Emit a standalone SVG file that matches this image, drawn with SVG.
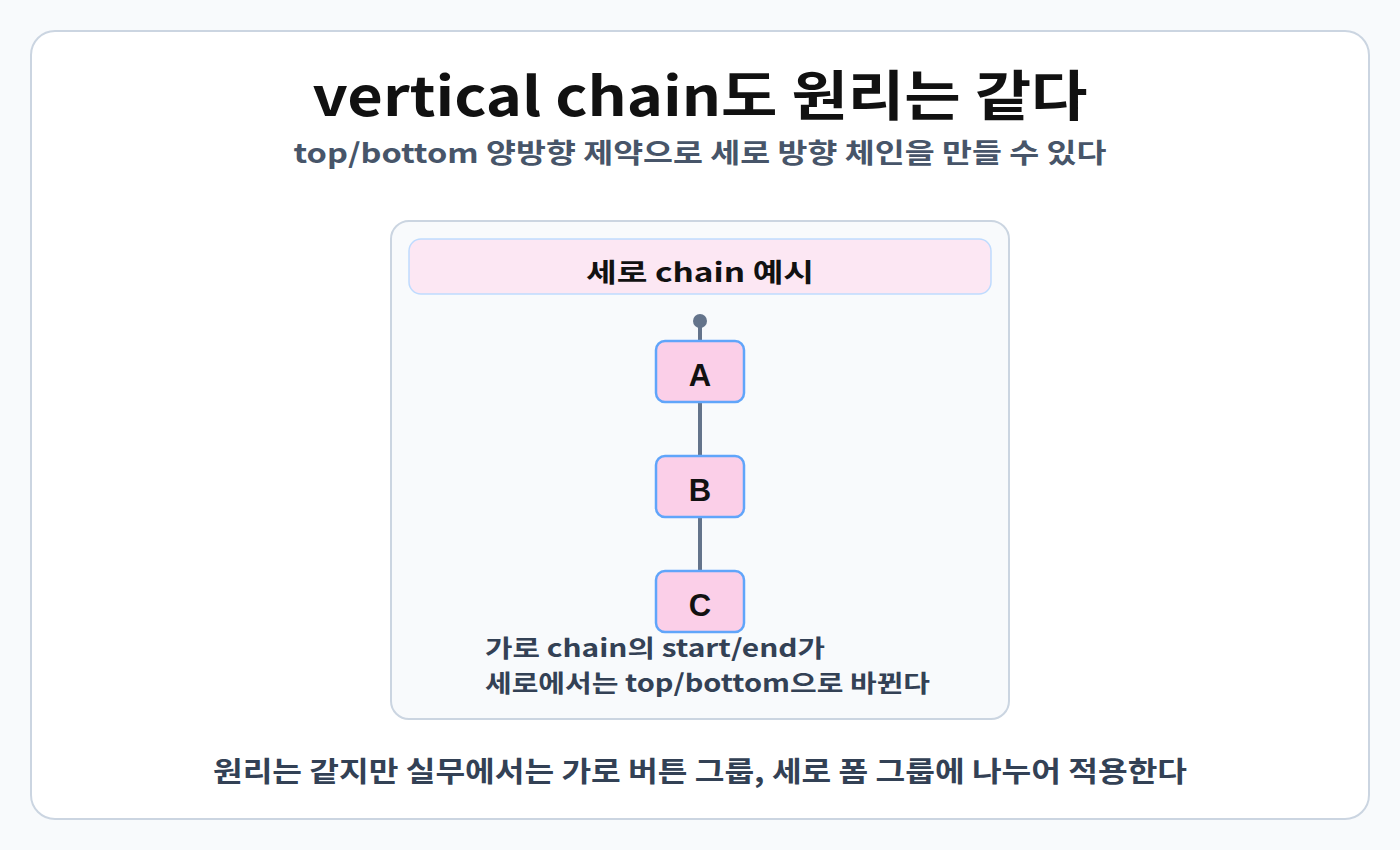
<svg xmlns="http://www.w3.org/2000/svg" width="1400" height="850" viewBox="0 0 1400 850">
<defs>
<style>
.k{font-family:"Noto Sans CJK KR","Noto Sans",sans-serif;font-weight:700}
.t{font-size:54px;fill:#111111;text-anchor:middle}
.s{font-size:27px;fill:#475569;text-anchor:middle}
.h{font-size:26px;fill:#111111;text-anchor:middle}
.n{font-family:"Liberation Sans",Arial,sans-serif;font-weight:700;font-size:31px;fill:#111111;text-anchor:middle}
.a{font-size:24px;fill:#334155}
.b{font-size:28px;fill:#334155;text-anchor:middle}
.node{fill:#fbcfe8;stroke:#60a5fa;stroke-width:2.5}
.con{stroke:#64748b;stroke-width:4;fill:none}
</style>
</defs>
<rect width="1400" height="850" fill="#f8fafc"/>
<rect x="31" y="31" width="1338" height="788" rx="24" fill="#ffffff" stroke="#cbd5e1" stroke-width="2"/>
<text class="k t" x="700" y="116" textLength="775" lengthAdjust="spacingAndGlyphs">vertical chain도 원리는 같다</text>
<text class="k s" x="700" y="163" textLength="813" lengthAdjust="spacingAndGlyphs">top/bottom 양방향 제약으로 세로 방향 체인을 만들 수 있다</text>
<g id="panel">
<rect x="391" y="221" width="618" height="498" rx="18" fill="#f8fafc" stroke="#cbd5e1" stroke-width="2"/>
<rect x="409" y="239" width="582" height="55" rx="12" fill="#fce7f3" stroke="#bfdbfe" stroke-width="1.5"/>
<text class="k h" x="700" y="282" textLength="228" lengthAdjust="spacingAndGlyphs">세로 chain 예시</text>
</g>
<g id="connectors">
<line class="con" x1="700" y1="321" x2="700" y2="341"/>
<line class="con" x1="700" y1="402" x2="700" y2="456"/>
<line class="con" x1="700" y1="517" x2="700" y2="571"/>
<circle cx="700" cy="321" r="7" fill="#64748b"/>
</g>
<g id="nodeA">
<rect class="node" x="656" y="341" width="88" height="61" rx="9"/>
<text class="n" x="700" y="386">A</text>
</g>
<g id="nodeB">
<rect class="node" x="656" y="456" width="88" height="61" rx="9"/>
<text class="n" x="700" y="501">B</text>
</g>
<g id="nodeC">
<rect class="node" x="656" y="571" width="88" height="61" rx="9"/>
<text class="n" x="700" y="616">C</text>
</g>
<g id="note">
<text class="k a" x="485" y="657" textLength="340" lengthAdjust="spacingAndGlyphs">가로 chain의 start/end가</text>
<text class="k a" x="485" y="692" textLength="445" lengthAdjust="spacingAndGlyphs">세로에서는 top/bottom으로 바뀐다</text>
</g>
<text class="k b" x="700" y="782" textLength="974" lengthAdjust="spacingAndGlyphs">원리는 같지만 실무에서는 가로 버튼 그룹, 세로 폼 그룹에 나누어 적용한다</text>
</svg>
